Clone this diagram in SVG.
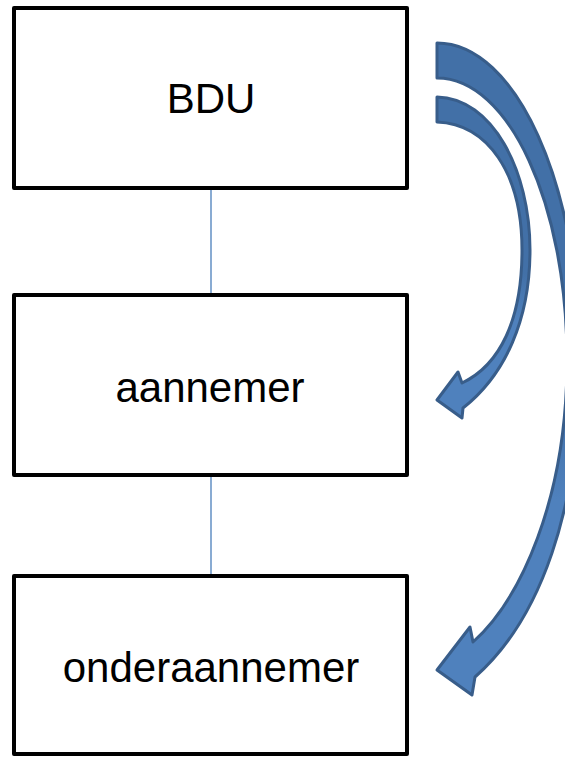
<svg xmlns="http://www.w3.org/2000/svg" width="565" height="757" viewBox="0 0 565 757">
<style>
.box{fill:#fff;stroke:#000;stroke-width:4;stroke-linejoin:round}
.lbl{font-family:"Liberation Sans",Arial,sans-serif;font-size:42px;fill:#000;text-anchor:middle}
.conn{stroke:#4a7ebb;stroke-width:1.3;fill:none}
.arrow{stroke:#385d8a;stroke-width:3;stroke-linejoin:round}
</style>
<defs>
<linearGradient id="g1" x1="0" y1="0" x2="0" y2="1">
<stop offset="0" stop-color="#4270a7"/>
<stop offset="0.55" stop-color="#4270a7"/>
<stop offset="0.7" stop-color="#4f81bd"/>
<stop offset="1" stop-color="#4f81bd"/>
</linearGradient>
</defs>
<rect width="565" height="757" fill="#fff"/>
<g id="connectors">
<line class="conn" x1="211" y1="189" x2="211" y2="295"/>
<line class="conn" x1="211" y1="475" x2="211" y2="576"/>
</g>
<g id="bdu">
<rect class="box" x="14" y="8" width="393" height="180"/>
<text class="lbl" x="211" y="113">BDU</text>
</g>
<g id="aannemer">
<rect class="box" x="14" y="295" width="393" height="180"/>
<text class="lbl" x="210" y="402">aannemer</text>
</g>
<g id="onderaannemer">
<rect class="box" x="14" y="576" width="393" height="178"/>
<text class="lbl" x="211" y="682">onderaannemer</text>
</g>
<g id="arrow-large">
<path class="arrow" fill="url(#g1)" d="M437,43 C516,43 580,185 580,360 C580,510 540,620 475,677 L472,695 L437,670 L470,627 L473,642 C520,600 567,500 567,360 C567,204 509,78 437,78 Z"/>
</g>
<g id="arrow-small">
<path class="arrow" fill="url(#g1)" d="M437,97 C492,98 530,170 530,250 C530,320 505,375 463,408 L462,418 L437,400 L458,372 L462,383 C500,365 522,320 522,250 C522,172 487,124 437,122 Z"/>
</g>
</svg>
